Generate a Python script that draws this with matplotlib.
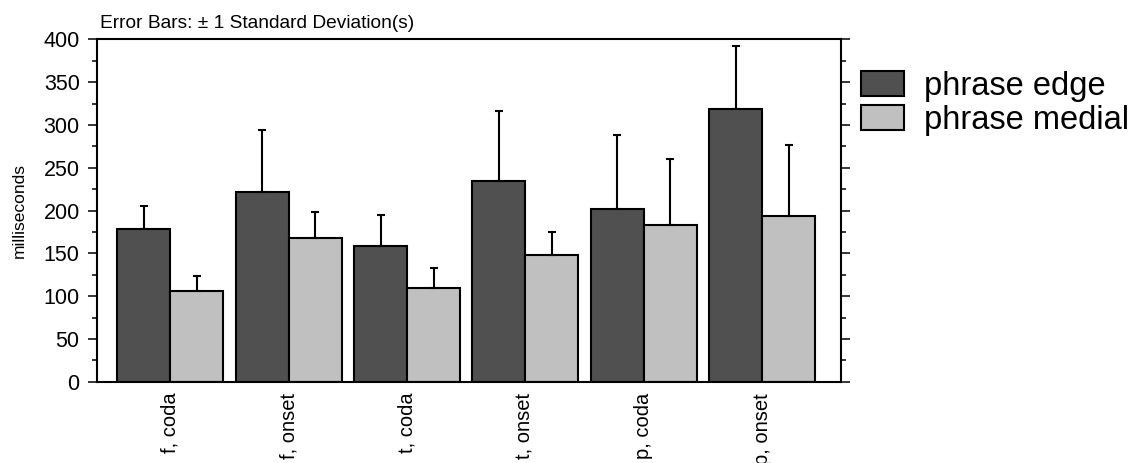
import numpy as np
import matplotlib.pyplot as plt
from matplotlib.ticker import MultipleLocator

plt.rcParams['font.family'] = ['Liberation Sans', 'DejaVu Sans']

groups = ['f, coda', 'f, onset', 't, coda', 't, onset', 'p, coda', 'p, onset']
edge_mean = [178, 222, 158, 235, 202, 318]
edge_sd = [27, 72, 37, 81, 86, 74]
medial_mean = [106, 168, 109, 148, 183, 193]
medial_sd = [17, 30, 24, 27, 77, 84]

W, H = 1138, 463
fig = plt.figure(figsize=(W / 100, H / 100), dpi=100)
ax = fig.add_axes([97 / W, 1 - 381.7 / H, (840.7 - 97) / W, (381.7 - 39.3) / H])

x = np.arange(len(groups))
w = 0.448
ekw = dict(ecolor='black', elinewidth=1.5, capsize=3, capthick=1.5)
ax.bar(x - w / 2, edge_mean, w, yerr=[np.zeros(len(x)), edge_sd],
       color='#505050', edgecolor='black', linewidth=1.5,
       error_kw=ekw, label='phrase edge')
ax.bar(x + w / 2, medial_mean, w, yerr=[np.zeros(len(x)), medial_sd],
       color='#c0c0c0', edgecolor='black', linewidth=1.5,
       error_kw=ekw, label='phrase medial')

ax.set_xlim(-0.62, 5.664)
ax.set_ylim(0, 400)
ax.yaxis.set_major_locator(MultipleLocator(50))
ax.yaxis.set_minor_locator(MultipleLocator(25))
ax.set_xticks(x)
ax.set_xticklabels(groups, rotation=90, fontsize=14.5)
ax.tick_params(axis='x', length=0, pad=8)
ax.tick_params(axis='y', which='both', direction='out', right=True,
               labelright=False, labelsize=15.5, width=1.1, pad=6)
ax.tick_params(axis='y', which='major', length=6.5)
ax.tick_params(axis='y', which='minor', length=3.8)
for s in ax.spines.values():
    s.set_linewidth(1.5)

fig.text(100 / W, 1 - 23 / H, 'Error Bars: \u00b1 1 Standard Deviation(s)',
         fontsize=13.8, va='center', ha='left')
fig.text(19 / W, 1 - 210 / H, 'milliseconds', fontsize=12.5,
         rotation=90, va='center', ha='center')

ax.legend(loc='upper left', bbox_to_anchor=(860.5 / W, 1 - 71 / H),
          bbox_transform=fig.transFigure, frameon=False, borderpad=0,
          borderaxespad=0, fontsize=23.5, handlelength=1.32,
          handleheight=0.8, handletextpad=0.62, labelspacing=0.1)

fig.savefig('out.png', dpi=100)
